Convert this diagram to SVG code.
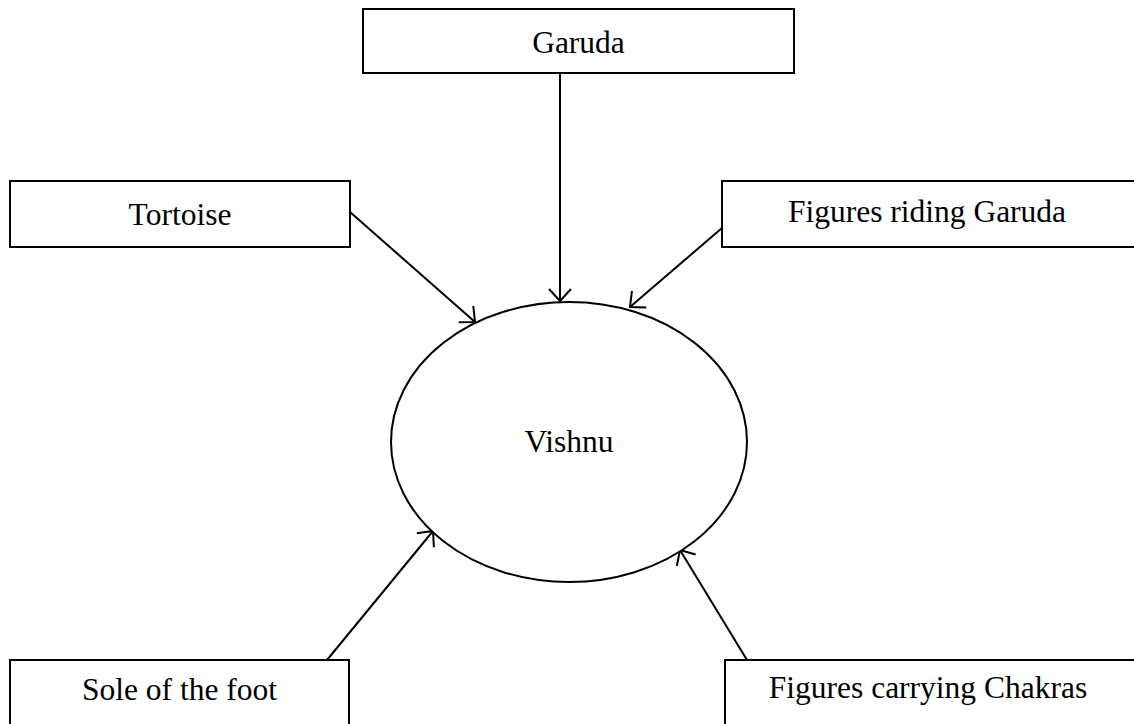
<svg xmlns="http://www.w3.org/2000/svg" width="1134" height="724" viewBox="0 0 1134 724">
<style>
.box{fill:#fff;stroke:#000;stroke-width:2}
.lbl{font-family:"Liberation Serif","Times New Roman",serif;font-size:31.5px;fill:#000;text-anchor:middle}
.conn{stroke:#000;stroke-width:2;fill:none;marker-end:url(#arr)}
</style>
<defs>
<marker id="arr" markerUnits="userSpaceOnUse" markerWidth="30" markerHeight="30" refX="0" refY="0" viewBox="-15 -15 30 30" orient="auto">
<path d="M-12,-11 L0,0 L-12,11" fill="none" stroke="#000" stroke-width="2"/>
</marker>
</defs>
<rect width="1134" height="724" fill="#fff"/>
<g id="connectors">
<line class="conn" x1="560" y1="74" x2="560" y2="301"/>
<line class="conn" x1="350" y1="212" x2="475" y2="322"/>
<line class="conn" x1="722" y1="228" x2="630" y2="307"/>
<line class="conn" x1="327" y1="660" x2="433" y2="531"/>
<line class="conn" x1="747" y1="660" x2="680" y2="550"/>
</g>
<g id="garuda"><rect class="box" x="363" y="9" width="431" height="64"/><text class="lbl" x="578.5" y="53">Garuda</text></g>
<g id="tortoise"><rect class="box" x="10" y="181" width="340" height="66"/><text class="lbl" x="180" y="225">Tortoise</text></g>
<g id="figures-riding-garuda"><rect class="box" x="722" y="181" width="420" height="66"/><text class="lbl" x="927" y="222">Figures riding Garuda</text></g>
<g id="vishnu"><ellipse class="box" cx="569" cy="442" rx="178" ry="140"/><text class="lbl" x="569" y="452">Vishnu</text></g>
<g id="sole-of-the-foot"><rect class="box" x="10" y="660" width="339" height="80"/><text class="lbl" x="179.5" y="700">Sole of the foot</text></g>
<g id="figures-carrying-chakras"><rect class="box" x="725" y="660" width="420" height="80"/><text class="lbl" x="928" y="698">Figures carrying Chakras</text></g>
</svg>
